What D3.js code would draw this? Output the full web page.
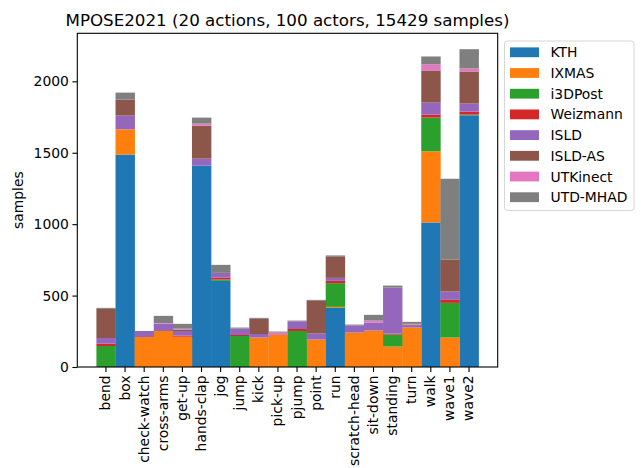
<!DOCTYPE html>
<html><head><meta charset="utf-8">
<script src="https://cdn.jsdelivr.net/npm/d3@7"></script>
<style>body{margin:0;background:#fff}svg{display:block;font-family:"DejaVu Sans",sans-serif}</style>
</head><body><svg id="c" width="641" height="468"></svg>
<script>
const categories = ["bend","box","check-watch","cross-arms","get-up","hands-clap","jog","jump","kick","pick-up","pjump","point","run","scratch-head","sit-down","standing","turn","walk","wave1","wave2"];
const seriesNames = ["KTH","IXMAS","i3DPost","Weizmann","ISLD","ISLD-AS","UTKinect","UTD-MHAD"];
const colors = ["#1f77b4","#ff7f0e","#2ca02c","#d62728","#9467bd","#8c564b","#e377c2","#7f7f7f"];
const KTH      = [0,1487,0,0,0,1410,603,0,0,0,0,0,414,0,0,0,0,1012,0,1762];
const IXMAS    = [0,177,210,252,212,0,0,0,206,224,0,192,7,241,255,143,276,498,206,0];
const i3DPost  = [147,0,0,0,0,0,9,217,0,0,252,0,166,0,0,84,0,236,243,5];
const Weizmann = [17,0,0,0,8,0,14,7,0,0,14,0,16,0,0,7,0,21,21,21];
const ISLD     = [39,96,42,52,32,49,33,45,25,0,54,42,21,51,56,322,13,84,58,56];
const ISLD_AS  = [204,112,0,0,10,231,0,0,106,0,0,229,147,0,0,0,8,225,225,225];
const UTKinect = [0,0,0,4,6,14,0,0,0,17,0,0,0,0,14,0,5,42,0,21];
const UTD_MHAD = [7,49,0,50,34,42,56,7,7,7,5,7,10,5,40,14,14,56,565,135];
const yTicks = [0,500,1000,1500,2000];
const title = "MPOSE2021 (20 actions, 100 actors, 15429 samples)";

const seriesData = [KTH,IXMAS,i3DPost,Weizmann,ISLD,ISLD_AS,UTKinect,UTD_MHAD];
const rows = categories.map((c,i)=>{const r={cat:c}; seriesNames.forEach((s,j)=>r[s]=seriesData[j][i]); return r;});
const stacked = d3.stack().keys(seriesNames)(rows);
const maxTotal = d3.max(rows, r=>d3.sum(seriesNames, s=>r[s]));

const L=77.3, R=497.7, T=33.3, B=367;
const svg = d3.select("#c");
const x = d3.scaleBand().domain(categories).range([L,R]).paddingInner(0).paddingOuter(1);
const y = d3.scaleLinear().domain([0, maxTotal*1.05]).range([B,T]);

svg.append("g").selectAll("g").data(stacked).join("g")
  .attr("fill",(d,i)=>colors[i])
  .selectAll("rect").data(d=>d).join("rect")
  .attr("x",d=>x(d.data.cat)).attr("width",x.bandwidth()+0.3)
  .attr("y",d=>y(d[1])).attr("height",d=>Math.max(0,y(d[0])-y(d[1])));

// axes
const ya = svg.append("g").attr("transform",`translate(${L},0)`)
  .call(d3.axisLeft(y).tickValues(yTicks).tickFormat(d3.format("d")).tickSize(4.9).tickPadding(3.5));
ya.select(".domain").remove();
ya.selectAll("text").attr("font-size","13.9px").attr("fill","#000").attr("font-family","DejaVu Sans");
ya.selectAll("line").attr("stroke","#000").attr("stroke-width",1.1);

const xa = svg.append("g").attr("transform",`translate(0,${B})`)
  .call(d3.axisBottom(x).tickSize(4.9).tickPadding(3.5));
xa.select(".domain").remove();
xa.selectAll("line").attr("stroke","#000").attr("stroke-width",1.1);
xa.selectAll("text").attr("font-size","13.9px").attr("fill","#000").attr("font-family","DejaVu Sans")
  .attr("transform","rotate(-90)").attr("text-anchor","end").attr("dy","0.32em").attr("x",-8.4).attr("y",0);

svg.append("rect").attr("x",L).attr("y",T).attr("width",R-L).attr("height",B-T)
  .attr("fill","none").attr("stroke","#000").attr("stroke-width",1.1);

svg.append("text").attr("x",(L+R)/2).attr("y",25.5).attr("text-anchor","middle")
  .attr("font-size","16.7px").text(title);
svg.append("text").attr("transform",`translate(23,${(T+B)/2}) rotate(-90)`).attr("text-anchor","middle")
  .attr("font-size","13.9px").text("samples");

// legend
const lg = svg.append("g");
lg.append("rect").attr("x",504.5).attr("y",41).attr("width",129.5).attr("height",169.5).attr("rx",3)
  .attr("fill","#fff").attr("fill-opacity",0.8).attr("stroke","#d6d6d6").attr("stroke-width",1);
seriesNames.forEach((s,i)=>{
  const cy = 52.3 + i*20.7;
  lg.append("rect").attr("x",510).attr("y",cy-4.9).attr("width",29).attr("height",9.8).attr("fill",colors[i]);
  lg.append("text").attr("x",550.5).attr("y",cy).attr("dy","0.36em").attr("font-size","13.9px").text(s);
});
</script></body></html>
